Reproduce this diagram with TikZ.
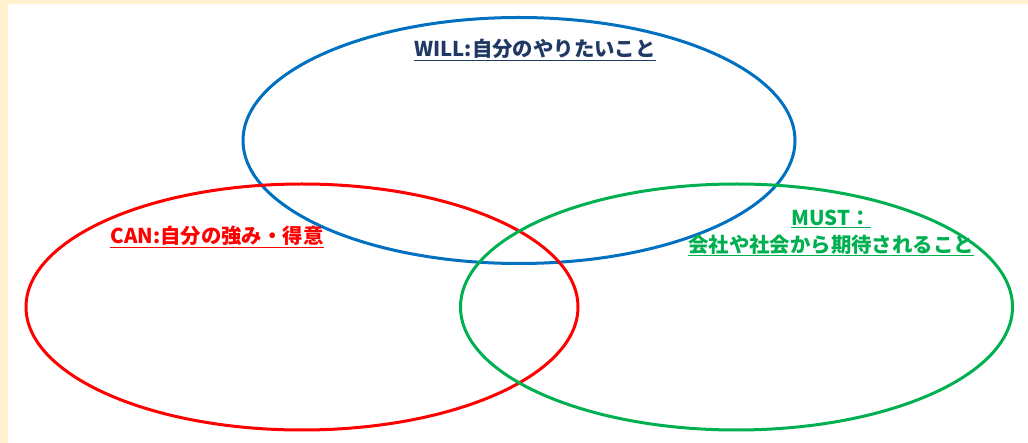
\documentclass[tikz,border=0pt]{standalone}
\usepackage{fontspec}
\newfontfamily\jp{Noto Sans CJK JP}
\usetikzlibrary{shapes.geometric}
\definecolor{cream}{HTML}{FFF2CC}
\definecolor{wblue}{HTML}{0070C0}
\definecolor{cred}{HTML}{FF0000}
\definecolor{mgreen}{HTML}{00B050}
\definecolor{navy}{HTML}{1F3864}
\tikzset{
  circ/.style={ellipse, draw, line width=3pt, inner sep=0pt, minimum width=552pt, minimum height=246pt},
  lbl/.style={font=\jp\bfseries\fontsize{20.4}{27}\selectfont, align=center, inner sep=0pt}
}
\begin{document}
\begin{tikzpicture}[x=1pt,y=-1pt]
\useasboundingbox (0,0) rectangle (1028,443);
\fill[cream] (0,0) rectangle (1028,443);
\fill[white] (8,4) rectangle (1028,443);
\node[circ, draw=wblue] (will) at (519,140.5) {};
\node[circ, draw=cred] (can) at (302,307) {};
\node[circ, draw=mgreen] (must) at (736.5,307) {};
\node[lbl, text=navy] (willt) at (535,50) {\underline{WILL:自分のやりたいこと}};
\node[lbl, text=cred] (cant) at (217,237) {\underline{CAN:自分の強み・得意}};
\node[lbl, text=mgreen] (mustt) at (831,233) {\underline{MUST：}\\\underline{会社や社会から期待されること}};
\end{tikzpicture}
\end{document}
